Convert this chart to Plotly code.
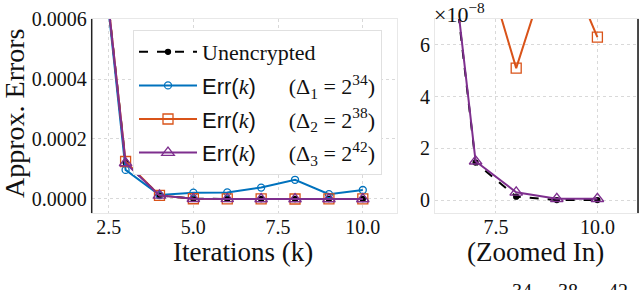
import plotly.graph_objects as go

# ---- data ----
iterations = [2, 3, 4, 5, 6, 7, 8, 9, 10]
unencrypted = [0.00116, 0.000122, 0.000012, 8e-7, 1.5e-7, 1.45e-8, 1.3e-9, 0.0, 0.0]
err_d1 = [0.00116, 0.000097, 0.000013, 0.000021, 0.000022, 0.000038, 0.000064, 0.000016, 0.000030]
err_d2 = [0.00116, 0.000125, 0.000012, 8e-7, 1.6e-7, 1.04e-7, 5.1e-8, 1.0e-7, 6.3e-8]
err_d3 = [0.00116, 0.000120, 0.000012, 8e-7, 1.52e-7, 1.5e-8, 3e-9, 5e-10, 5e-10]

left_xticks = [2.5, 5.0, 7.5, 10.0]
left_xticklabels = ["2.5", "5.0", "7.5", "10.0"]
left_yticks = [0.0, 0.0002, 0.0004, 0.0006]
left_yticklabels = ["0.0000", "0.0002", "0.0004", "0.0006"]
right_xticks = [7.5, 10.0]
right_xticklabels = ["7.5", "10.0"]
right_yticks = [0.0, 2e-8, 4e-8, 6e-8]
right_yticklabels = ["0", "2", "4", "6"]

W, H = 640, 290
FONT = "Liberation Serif, Times New Roman, serif"
SANS = "Liberation Sans, Arial, sans-serif"
C_BLACK = "#000000"
C_BLUE = "#0072BD"
C_ORANGE = "#D95319"
C_PURPLE = "#7E2F8E"

NB = "\u00a0"
def err_label(idx, exp):
    return (f"<span style='font-family:{SANS}'>Err(</span><i>k</i>"
            f"<span style='font-family:{SANS}'>)</span>{NB*6}"
            f"(Δ<sub>{idx}</sub> = 2<sup>{exp}</sup>)")

series = [
    ("Unencrypted", unencrypted, C_BLACK, "dash", "circle", 5, 2),
    (err_label(1, 34), err_d1, C_BLUE, "solid", "circle-open", 7, 2),
    (err_label(2, 38), err_d2, C_ORANGE, "solid", "square-open", 10, 2),
    (err_label(3, 42), err_d3, C_PURPLE, "solid", "triangle-up-open", 11, 2),
]

fig = go.Figure()
for i, (name, ys, col, dash, sym, msize, lw) in enumerate(series):
    for ax, show in (("", True), ("2", False)):
        fig.add_trace(go.Scatter(
            x=iterations, y=ys, name=name, mode="lines+markers",
            line=dict(color=col, width=lw, dash=dash),
            marker=dict(symbol=sym, size=msize, color=col,
                        line=dict(color=col, width=1.3)),
            xaxis="x" + ax, yaxis="y" + ax,
            showlegend=show, legendgroup=f"g{i}",
        ))

def axstyle(is_x):
    d = dict(showgrid=True, gridcolor="#d9d9d9", griddash="dot", gridwidth=1,
             zeroline=False, showline=True, linecolor="#e8e8e8", linewidth=1,
             mirror=True, ticks="", ticklen=0, automargin=False,
             tickfont=dict(family=FONT, size=20, color="#111"))
    if is_x:
        d["ticklabelstandoff"] = -4
    return d

x0, x1 = 91.7 / W, 396.7 / W
x2, x3 = 435 / W, 638 / W
y0, y1 = (H - 213) / H, (H - 19) / H
TITLE_FONT = dict(family=FONT, size=27, color="#111")

fig.update_layout(
    template="plotly_white",
    width=W, height=H,
    margin=dict(l=0, r=0, t=0, b=0, autoexpand=False),
    paper_bgcolor="white", plot_bgcolor="white",
    font=dict(family=FONT, color="#111"),
    xaxis=dict(domain=[x0, x1], range=[2, 11], tickvals=left_xticks,
               ticktext=left_xticklabels, anchor="y", **axstyle(True)),
    yaxis=dict(domain=[y0, y1], range=[-0.0000467, 0.0006], tickvals=left_yticks,
               ticktext=left_yticklabels, anchor="x", **axstyle(False)),
    xaxis2=dict(domain=[x2, x3], range=[6, 11], tickvals=right_xticks,
                ticktext=right_xticklabels, anchor="y2", **axstyle(True)),
    yaxis2=dict(domain=[y0, y1], range=[-0.5e-8, 7e-8], tickvals=right_yticks,
                ticktext=right_yticklabels, anchor="x2", **axstyle(False)),
    legend=dict(x=133 / W, y=(H - 30) / H, xanchor="left", yanchor="top",
                bgcolor="white", bordercolor="#e0e0e0", borderwidth=1,
                font=dict(family=FONT, size=22, color="#111"),
                traceorder="grouped", tracegroupgap=2, itemwidth=58),
    showlegend=True,
)

# axis titles
fig.add_annotation(text="Approx. Errors", xref="paper", yref="paper",
                   x=14 / W, y=(H - 113) / H, textangle=-90, showarrow=False,
                   xanchor="center", yanchor="middle", font=dict(family=FONT, size=28, color="#111"))
fig.add_annotation(text="Iterations (k)", xref="paper", yref="paper",
                   x=243 / W, y=(H - 252) / H, showarrow=False,
                   xanchor="center", yanchor="middle", font=TITLE_FONT)
fig.add_annotation(text="(Zoomed In)", xref="paper", yref="paper",
                   x=535 / W, y=(H - 252) / H, showarrow=False,
                   xanchor="center", yanchor="middle", font=TITLE_FONT)

# dark spines
fig.add_shape(type="line", xref="paper", yref="paper", x0=x0, x1=x0, y0=y0, y1=y1,
              line=dict(color="#222", width=1.5))
fig.add_shape(type="line", xref="paper", yref="paper", x0=x3, x1=x3, y0=y0, y1=y1,
              line=dict(color="#111", width=1.5))

# offset multiplier for zoomed axis
fig.add_annotation(text="×10<sup>−8</sup>", xref="paper", yref="paper",
                   x=432 / W, y=(H - 13) / H, xanchor="left", yanchor="middle",
                   showarrow=False, font=dict(family=FONT, size=22, color="#111"))

# cut-off caption superscripts at the very bottom
for txt, px in (("34", 522), ("38", 568), ("42", 618)):
    fig.add_annotation(text=txt, xref="paper", yref="paper", x=px / W, y=(H - 278) / H,
                       xanchor="center", yanchor="top", showarrow=False,
                       font=dict(family=FONT, size=20, color="#111"))

fig.write_html("out.html", config={"displayModeBar": False},
               post_script="document.body.style.margin='0';document.body.style.overflow='hidden';")
